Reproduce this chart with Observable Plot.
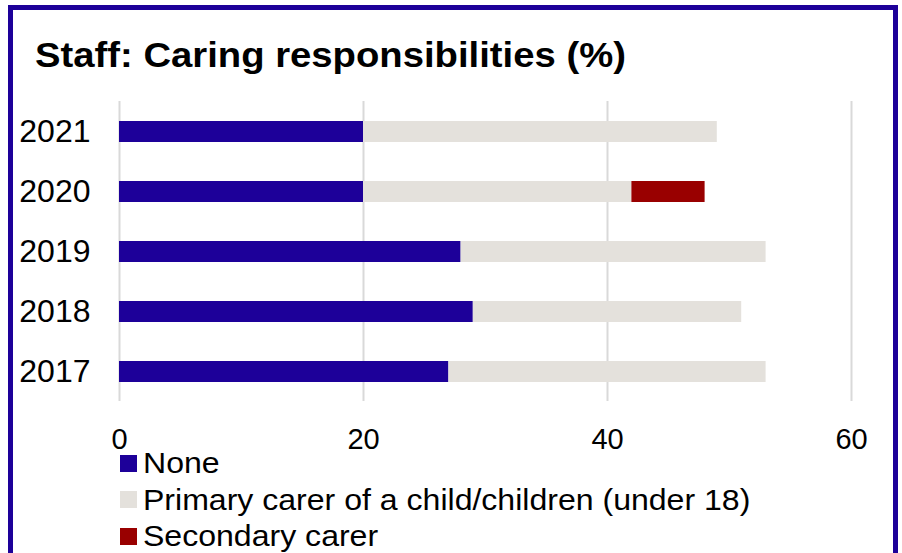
<!DOCTYPE html>
<html>
<head>
<meta charset="utf-8">
<script src="https://cdn.jsdelivr.net/npm/d3@7"></script>
<script src="https://cdn.jsdelivr.net/npm/@observablehq/plot@0.6"></script>
<style>
  html, body { margin: 0; padding: 0; background: #fff; overflow: hidden; }
  body { width: 902px; height: 553px; position: relative; font-family: "Liberation Sans", Arial, sans-serif; }
  #frame { position: absolute; left: 8px; top: 5px; width: 880px; height: 600px; border: 5px solid #1d0099; box-sizing: content-box; }
  #title { position: absolute; left: 35px; top: 37px; font-size: 35px; line-height: 35px; font-weight: bold; color: #000; white-space: nowrap; transform: scaleX(1.093); transform-origin: left center; }
  #chart { position: absolute; left: 0; top: 0; }
  #legend { position: absolute; left: 120px; top: 445px; }
  .row { display: flex; align-items: center; height: 36.5px; font-size: 29px; line-height: 36.5px; color: #000; white-space: nowrap; }
  .row span { display: inline-block; transform: scaleX(1.105); transform-origin: left center; }
  .sw { width: 17px; height: 17px; margin-right: 6px; flex: none; }
</style>
</head>
<body>
<div id="frame"></div>
<div id="title">Staff: Caring responsibilities (%)</div>
<div id="chart"></div>
<div id="legend"></div>
<script>
const years = ["2021", "2020", "2019", "2018", "2017"];
const seriesNames = ["None", "Primary carer of a child/children (under 18)", "Secondary carer"];
const noneValues = [20, 20, 28, 29, 27];
const primaryValues = [29, 22, 25, 22, 26];
const secondaryValues = [0, 6, 0, 0, 0];
const xTicks = [0, 20, 40, 60];
const colors = ["#1d0099", "#e4e1dc", "#990000"];

const seriesValues = [noneValues, primaryValues, secondaryValues];
const table = [];
seriesNames.forEach((s, i) => {
  years.forEach((y, j) => {
    table.push({year: y, series: s, value: seriesValues[i][j]});
  });
});

const plot = Plot.plot({
  width: 902,
  height: 460,
  marginTop: 101,
  marginBottom: 59,
  marginLeft: 119,
  marginRight: 51,
  style: {fontFamily: "'Liberation Sans', Arial, sans-serif", background: "transparent", color: "#000"},
  x: {domain: [0, 60], ticks: xTicks, label: null},
  y: {domain: years, label: null, paddingInner: 0.65, paddingOuter: 0.325},
  color: {domain: seriesNames, range: colors},
  marks: [
    Plot.gridX(xTicks, {stroke: "#d9d9d9", strokeOpacity: 1, strokeWidth: 2}),
    Plot.barX(table, {y: "year", x: "value", fill: "series", order: seriesNames}),
    Plot.axisX({ticks: xTicks, tickSize: 0, tickPadding: 27, fontSize: 29, label: null, tickFormat: d => String(d)}),
    Plot.axisY({tickSize: 0, tickPadding: 29, fontSize: 32, label: null})
  ]
});
document.getElementById("chart").appendChild(plot);

const legend = document.getElementById("legend");
seriesNames.forEach((s, i) => {
  const row = document.createElement("div");
  row.className = "row";
  const sw = document.createElement("div");
  sw.className = "sw";
  sw.style.background = colors[i];
  const t = document.createElement("span");
  t.textContent = s;
  row.appendChild(sw);
  row.appendChild(t);
  legend.appendChild(row);
});
</script>
</body>
</html>
